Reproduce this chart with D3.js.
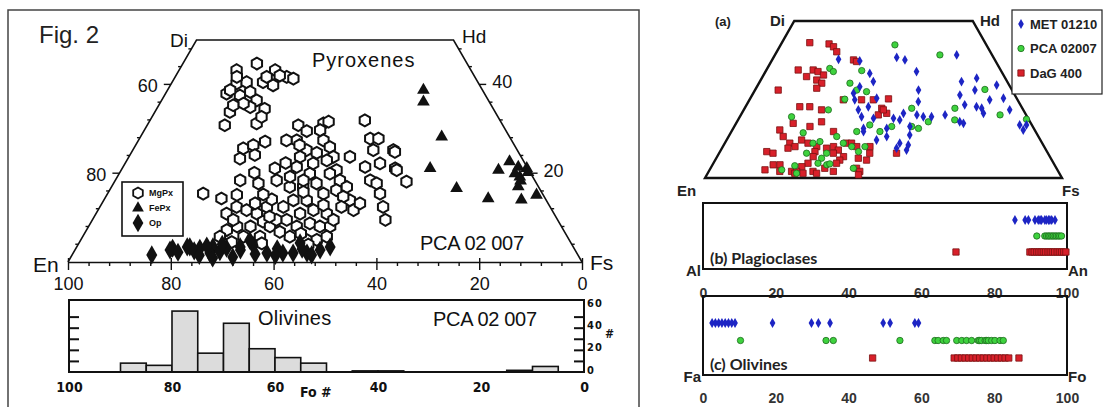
<!DOCTYPE html>
<html>
<head>
<meta charset="utf-8">
<script src="https://cdn.jsdelivr.net/npm/d3@7"></script>
<style>
  body { margin: 0; background: #fff; }
  svg { display: block; }
</style>
</head>
<body>
<svg width="1104" height="407"></svg>
<script>
// ---------- data : left figure (Fig. 2, PCA 02007) ----------
// pyroxenes as [Wo, Fs] (mol %), En = 100 - Wo - Fs
const mgPx = [
  [43.2,11.2],[44.7,14.4],[43.2,18.7],[41.7,21.7],[41.3,23.2],[40.2,12.7],[40.5,14.5],[40.5,17.7],
  [39.8,20],[37.9,11.9],[37.5,14.7],[38.3,16.3],[36.4,18.5],[34.5,21],[34.9,18],[33.8,14.6],
  [30.8,15.1],[31.2,21.1],[35.7,16.3],[41.7,17.8],[42,20.2],[41.7,12],[35.3,14.5],[32.7,21.3],[38.7,12.2],
  [25.6,21.3],[26.3,22.9],[27.1,24.8],[23.3,21.8],[24.1,24.3],
  [15.4,18.6],
  [14.3,22.7],[15.1,25.3],[12.4,26.6],[10.9,25.4],[11.7,28.9],[10.9,31.3],[12.4,32.5],[9.1,33.4],
  [8,31.5],[8,28.9],[7.2,27.3],[5.7,26.7],[5.7,31.3],[5.7,34.5],[8,35.3],[9.5,35.8],[18.4,24.3],
  [17.7,28.2],[21.1,29.7],[18.4,31.4],[9.5,27.4],
  [30.8,29.4],[27.4,30.8],[25.2,33.8],[27.4,28.8],[23.7,33.3],[21.4,33.8],[19.9,37.1],[16.9,34.7],
  [16.9,37.3],[17.7,39.5],[15.4,42],[13.9,39.5],[13.9,36.9],[12.4,35.7],[10.9,39.7],[11.7,41.9],
  [10.9,44.9],[8.7,42.7],[8,40.5],[8,45],[8,47],[5,43.9],[5.7,40.3],[5,45.9],[5.7,47.5],[18.4,36.6],
  [19.2,33.6],[22.2,36.6],[9.5,37.8],[9.5,46.9],
  [31.2,34.1],[31.6,34.9],[29.7,34.2],[27.4,36],[25.9,38],[23.7,39.8],[22.9,38.9],[20.7,41.9],
  [18.4,43.7],[16.2,44.1],[16.9,45.8],[13.9,47.9],[11.7,49.7],[13.2,50.2],[14.7,46.2],[19.9,41],[12.4,47],
  [31.9,41.8],[27.8,44.9],[27.8,46.5],[25.2,46.8],[22.2,49.6],[21.4,47.1],[18.4,49.6],[17.7,51.2],
  [15.4,53],[12.4,55.1],[9.5,57],[25.2,50.7],[21.1,53.1],[23.7,43],[24.8,51.2],[20.7,53.6],[18.1,56.8],
  [13.2,29.8],[14.1,32.6],[6.8,37.8],[4.5,29.6],[4.2,35.6],[15.2,30.4],[20.1,26.2],[22.3,31.2],
  [6.4,42.1],[3.9,44.8],[12.8,43.3],[26.3,31.9],[29.5,31.7],[24.6,36.1],[15.8,37.9],[10.2,34.1]
];
const fePx = [
  [38.7,49.8],[36.1,51.1],[28.2,58.6],[21.1,59.9],[16.6,67.3],[14.3,74.6],[20.7,73.4],[22.6,74.6],
  [21.4,76.9],[19.2,78.3],[17,79.1],[14,81.2],[15.1,83.6],[21.1,78.7],[19.9,77],[18.3,78.9],[20.2,79.4]
];
const opx = [
  [1.6,15.5],[3.1,18.8],[3.4,21.5],[3.1,24.1],[3.4,26.5],[3.1,29.3],[2.7,32.2],[1.1,31.5],[3.8,34.1],
  [2,37.7],[2,40.8],[2.7,18.5],[3.4,22],[2,26.6],[3.4,31.8],[4.9,32.9],[2,42.8],[2,45.5],[2.7,47.7],
  [3.4,49.3],[4.3,43],[0.9,27.7],[2.2,20.3],[2.5,23.3],[2.3,28.4],[1.8,35.5],[3,39.2],[2.9,44.1],
  [1.6,46.6],[3.6,25.2],[1.5,24.8],[4,28],[1.5,39.6]
];
// olivine histogram: bin upper Fo bound (bin width 5) and counts
const foBins = [90, 85, 80, 75, 70, 65, 60, 55, 45, 40, 15, 10];
const foCounts = [8, 6, 55, 17, 44, 21, 13, 8, 1, 1, 1.5, 5];
const enTicks = [100, 80, 60, 40, 20, 0];
const histCountLabels = [0, 20, 40, 60];

// ---------- data : right figure ----------
const seriesNames = ["MET 01210", "PCA 02007", "DaG 400"];
const metPx = [
  [37.8,18.5],[37.3,24.7],[38.4,34.5],[37.6,37.2],[33.9,42.3],[33.3,29.5],[30.7,31.8],[29.1,28.8],
  [27,28.1],[24.9,29.5],[25.4,35.4],[21.7,32.1],[19.5,34.1],[22.7,34.4],[19,37.7],[19,43.3],[18.5,45.3],
  [28,45.8],[24.3,47.6],[20.1,49.3],[19.5,51.4],[19.5,53.7],[20.1,57.2],[39.2,50.9],[30.7,56.5],
  [31.8,60.2],[28,61.6],[26.4,58.2],[23.3,61.1],[22.7,64.7],[22.2,66.4],[24.9,67.3],[29.6,66.9],
  [25.4,70.9],[21.7,74.5],[16.9,79.7],[15.3,81.5],[16.9,81.6],[20.6,67.7],[17.9,62.4],[17.4,63.7],
  [14.8,37],[12.1,42],[13.2,44.3],[13.7,50.5],[10.5,51.7],[11.1,49],[9.5,48.9],[8.9,52],[15.8,43],
  [20.6,45.3],[16.4,49.2],[15.8,36.5]
];
const pcaPx = [
  [42.4,32],[39.2,46.2],[28.2,64.3],[22.2,58.9],[20.1,72.6],[18.7,80.7],[34.9,17.5],[33.9,19],
  [34.2,26.8],[30.2,25.5],[28,28.5],[27.5,31.5],[25.1,26.6],[21.7,23.7],[19.5,14.5],[14.4,20.3],
  [11.1,24.7],[11.6,26.4],[11.1,33.2],[10,36.1],[8.4,38.8],[7.9,30.1],[6.3,29.5],[4.7,29.3],[4.2,32],
  [4.5,32.7],[3.9,23.2],[2.6,20.2],[3.1,40],[16.9,37.7],[14.8,41.6],[16.4,44.1],[22.2,46.8],
  [16.4,49.7],[15.8,51.9],[17.9,53.6],[14.8,35.1],[13.2,30.3],[10,39.8],[1.5,24.9],[7.9,24.5],[18.5,60.7]
];
const dagPx = [
  [43.1,7.8],[42.7,13.4],[41.8,15.1],[40.2,16.8],[37.6,22.8],[37.1,23.9],[34.4,8.9],[34.4,13.1],
  [33.9,14.7],[32.8,16.8],[32.3,12.3],[31.2,15.7],[30.2,17.6],[28.6,17],[22.7,15.2],[22.7,18],
  [21.7,21.8],[24.9,26.3],[24.9,31.4],[24.9,34.7],[25.2,38.8],[22.2,38.4],[20.1,38.5],[20.6,40.6],
  [17.9,23.7],[17.4,16],[16.4,21.2],[15.3,13.3],[13.2,15.3],[12.1,21],[14.8,28.6],[11.1,18.2],
  [10,20.2],[9.5,18.5],[11.1,23.3],[10,26.3],[9.5,29.3],[10,31],[8.9,32.9],[11.1,34.1],[11.1,35.5],
  [10,37.5],[10,41.2],[7.9,42.2],[5.7,42.4],[6.3,39.8],[6.8,35.4],[5.7,34.9],[4.7,34.5],[7.9,32],
  [8.4,13.1],[7.9,15.1],[8.4,26.6],[6.8,26.9],[4.7,26.5],[3.6,25.3],[4.2,18.9],[4.2,17],[2.6,15.5],
  [2.1,19.9],[2.1,23.2],[2.1,24.6],[1.5,24.4],[1.5,26.7],[2.1,29.2],[1.5,30.5],[3.1,32],[2.1,34.9],
  [3.1,40.9],[2.1,42.3],[1,42.5],[7.9,49.7],[28,6.5],[21.7,39.1]
];
// plagioclase An and olivine Fo (mol %)
const metAn = [85.7, 88.5, 89.4, 91.2, 92.1, 92.6, 93, 93.9, 94.3, 94.9, 95.3, 95.8, 96.7];
const pcaAn = [91.7, 93.9, 94.4, 94.9, 95.3, 95.8, 96.2, 96.7, 97.1, 97.6, 98, 98.5];
const dagAn = [69.5, 89.8, 90.4, 91, 91.7, 92.3, 92.9, 93.5, 94.1, 94.8, 95.4, 96, 96.6, 97.3, 97.9, 98.5, 99.1, 99.7];
const metFo = [2.5, 3.4, 4.3, 5.2, 6.1, 7, 7.9, 8.8, 19.1, 29.8, 31.7, 34.9, 49.5, 51.4, 58.2, 59.2];
const pcaFo = [10.3, 33.8, 35.8, 54.1, 63.7, 64.6, 66, 66.9, 69.7, 71.1, 72.4, 73.8, 75.6, 76, 76.5,
  77.5, 77.9, 78.4, 79.3, 80.2, 81.6, 82.5];
const dagFo = [46.6, 69, 70, 71, 72, 73, 74, 75, 76, 77, 78, 79, 80, 81, 82, 83, 84, 86.8];
const pctTicks = [0, 20, 40, 60, 80, 100];

// ---------- setup ----------
const svg = d3.select("svg");
const FONT = "'Liberation Sans', Arial, sans-serif";
const NARROW = "'Liberation Sans Narrow', 'DejaVu Sans Condensed', sans-serif";

function addText(g, x, y, str, size, opts = {}) {
  return g.append("text")
    .attr("x", x).attr("y", y)
    .attr("dominant-baseline", "central")
    .attr("text-anchor", opts.anchor || "start")
    .attr("font-family", opts.family || FONT)
    .attr("font-weight", opts.weight || "normal")
    .attr("font-size", size)
    .attr("letter-spacing", opts.spacing || 0)
    .attr("fill", opts.fill || "#111")
    .text(str);
}

const hexagon = {
  draw(context, size) {
    const r = Math.sqrt(size / 2.598);
    for (let i = 0; i < 6; i++) {
      const a = Math.PI / 3 * i + Math.PI / 6;
      if (i === 0) context.moveTo(r * Math.cos(a), r * Math.sin(a));
      else context.lineTo(r * Math.cos(a), r * Math.sin(a));
    }
    context.closePath();
  }
};

// ================= LEFT FIGURE =================
const left = svg.append("g");
left.append("rect")
  .attr("x", 8).attr("y", 10).attr("width", 631).attr("height", 420)
  .attr("fill", "none").attr("stroke", "#444").attr("stroke-width", 1.5);

// ternary scales: horizontal by (Fs + Wo/2), vertical by Wo
const tx = d3.scaleLinear().domain([0, 100]).range([68, 582]);
const ty = d3.scaleLinear().domain([0, 50]).range([262, 40]);
const tPos = (wo, fs) => [tx(fs + wo / 2), ty(wo)];

// quadrilateral En-Di-Hd-Fs
left.append("path")
  .attr("d", d3.line()([tPos(0, 0), tPos(50, 0), tPos(50, 50), tPos(0, 100)]))
  .attr("fill", "none").attr("stroke", "#111").attr("stroke-width", 1.6);

// edge ticks
d3.range(4, 50, 4).forEach(wo => {
  const major = wo % 20 === 0;
  const len = major ? 7 : 3;
  const [lx, ly] = tPos(wo, 0);
  left.append("line").attr("x1", lx - len).attr("x2", lx).attr("y1", ly).attr("y2", ly)
    .attr("stroke", "#111").attr("stroke-width", 1.4);
  const [rx, ry] = tPos(wo, 100 - wo);
  left.append("line").attr("x1", rx).attr("x2", rx + len).attr("y1", ry).attr("y2", ry)
    .attr("stroke", "#111").attr("stroke-width", 1.4);
});
[[40, "60"], [20, "80"]].forEach(([wo, lab]) => {
  const [lx, ly] = tPos(wo, 0);
  addText(left, lx - 13, ly + 2, lab, 18, { anchor: "end" });
});
[[40, "40"], [20, "20"]].forEach(([wo, lab]) => {
  const [rx, ry] = tPos(wo, 100 - wo);
  addText(left, rx + 13, ry - 2, lab, 18);
});

// bottom En axis
const enScale = d3.scaleLinear().domain([100, 0]).range([68, 582]);
const enAxis = left.append("g").attr("transform", "translate(0,262)")
  .call(d3.axisBottom(enScale).tickValues(d3.range(0, 101, 4)).tickSize(4).tickSizeOuter(0)
    .tickFormat(d => enTicks.includes(d) ? d : ""));
enAxis.select(".domain").attr("stroke", "#111").attr("stroke-width", 1.6);
enAxis.selectAll(".tick line").attr("stroke", "#111").attr("stroke-width", 1.4)
  .filter(d => enTicks.includes(d)).attr("y1", -4).attr("y2", 8);
enAxis.selectAll(".tick text").attr("y", 15).attr("font-size", 18)
  .attr("font-family", FONT).attr("fill", "#111");

// points
const tern = left.append("g");
tern.selectAll(".mg").data(mgPx).join("path")
  .attr("transform", d => `translate(${tPos(d[0], d[1])})`)
  .attr("d", d3.symbol().type(hexagon).size(92))
  .attr("fill", "#fff").attr("stroke", "#111").attr("stroke-width", 2);
tern.selectAll(".op").data(opx).join("path")
  .attr("transform", d => `translate(${tPos(d[0], d[1])})`)
  .attr("d", d3.symbol().type(d3.symbolDiamond).size(105))
  .attr("fill", "#111");
tern.selectAll(".fe").data(fePx).join("path")
  .attr("transform", d => `translate(${tPos(d[0], d[1])})`)
  .attr("d", d3.symbol().type(d3.symbolTriangle).size(70))
  .attr("fill", "#111");

// labels
addText(left, 39, 34, "Fig. 2", 24, { fill: "#222" });
addText(left, 170, 40, "Di", 19);
addText(left, 462, 36, "Hd", 19);
addText(left, 312, 60, "Pyroxenes", 20, { spacing: 1 });
addText(left, 420, 243, "PCA 02 007", 20, { spacing: -0.3 });
addText(left, 33, 264, "En", 21);
addText(left, 590, 262, "Fs", 21);

// legend
const lg = left.append("g");
lg.append("rect").attr("x", 122).attr("y", 182).attr("width", 61).attr("height", 54)
  .attr("fill", "#fff").attr("stroke", "#111").attr("stroke-width", 1.6);
const lgItems = [["MgPx", hexagon, 80, "#fff"], ["FePx", d3.symbolTriangle, 60, "#111"], ["Op", d3.symbolDiamond, 100, "#111"]];
lgItems.forEach(([name, type, size, fill], i) => {
  lg.append("path").attr("transform", `translate(138,${193 + i * 15})`)
    .attr("d", d3.symbol().type(type).size(size))
    .attr("fill", fill).attr("stroke", "#111").attr("stroke-width", fill === "#fff" ? 1.8 : 0);
  addText(lg, 149, 193 + i * 15, name, 9, { weight: "bold" });
});

// olivine histogram
const hx = d3.scaleLinear().domain([100, 0]).range([69, 584]);
const hy = d3.scaleLinear().domain([0, 65]).range([372, 300]);
const hist = left.append("g");
hist.selectAll("rect.bar").data(foBins).join("rect")
  .attr("x", d => hx(d))
  .attr("width", d => hx(d - 5) - hx(d))
  .attr("y", (d, i) => hy(foCounts[i]))
  .attr("height", (d, i) => hy(0) - hy(foCounts[i]))
  .attr("fill", "#dcdcdc").attr("stroke", "#111").attr("stroke-width", 1.6);
hist.append("rect").attr("x", hx(100)).attr("y", hy(65))
  .attr("width", hx(0) - hx(100)).attr("height", hy(0) - hy(65))
  .attr("fill", "none").attr("stroke", "#111").attr("stroke-width", 2);
const hTickL = hist.append("g").attr("transform", `translate(${hx(100)},0)`)
  .call(d3.axisRight(hy).tickValues([10, 20, 30, 40, 50]).tickSize(10).tickSizeOuter(0).tickFormat(""));
const hTickR = hist.append("g").attr("transform", `translate(${hx(0)},0)`)
  .call(d3.axisLeft(hy).tickValues([10, 20, 30, 40, 50]).tickSize(10).tickSizeOuter(0).tickFormat(""));
[hTickL, hTickR].forEach(a => {
  a.select(".domain").remove();
  a.selectAll(".tick line").attr("stroke", "#111").attr("stroke-width", 2);
});
histCountLabels.forEach(v => {
  addText(hist, hx(0) + 3, hy(v) - 2, String(v), 11, { family: NARROW, weight: "bold", spacing: 1 });
});
addText(hist, 605, 334, "#", 12, { family: NARROW, weight: "bold" });
const hAxis = hist.append("g").attr("transform", `translate(0,${hy(0)})`)
  .call(d3.axisBottom(hx).tickValues(enTicks).tickSize(0));
hAxis.select(".domain").remove();
hAxis.selectAll(".tick text").attr("y", 10).attr("font-size", 14)
  .attr("font-family", NARROW).attr("font-weight", "bold").attr("fill", "#111");
addText(hist, 300, 392, "Fo #", 14, { family: NARROW, weight: "bold" });
addText(hist, 258, 318, "Olivines", 20, { spacing: 0.3 });
addText(hist, 433, 319, "PCA 02 007", 20, { spacing: -0.3 });

// ================= RIGHT FIGURE =================
const right = svg.append("g");
const colors = { met: "#1d25c4", pca: "#3ed23e", dag: "#d8202a" };
const RFONT = "'Liberation Sans', Arial, sans-serif";

const rx = d3.scaleLinear().domain([0, 100]).range([705, 1062]);
const ry = d3.scaleLinear().domain([0, 50]).range([178, 21]);
const rPos = (wo, fs) => [rx(fs + wo / 2), ry(wo)];

right.append("path")
  .attr("d", d3.line()([rPos(0, 0), rPos(50, 0), rPos(50, 50), rPos(0, 100)]) + "Z")
  .attr("fill", "none").attr("stroke", "#111").attr("stroke-width", 2.4);

const metSym = d3.symbol().type(d3.symbolDiamond).size(28);
const pcaSym = d3.symbol().type(d3.symbolCircle).size(32);
const dagSym = d3.symbol().type(d3.symbolSquare).size(40);

function drawMarks(g, data, pos, kind) {
  const sym = kind === "met" ? metSym : kind === "pca" ? pcaSym : dagSym;
  g.selectAll(null).data(data).join("path")
    .attr("transform", d => `translate(${pos(d)})`)
    .attr("d", sym)
    .attr("fill", colors[kind])
    .attr("stroke", kind === "met" ? "none" : kind === "pca" ? "#1e6a1e" : "#7a1212")
    .attr("stroke-width", 0.8);
}
const rt = right.append("g");
drawMarks(rt, dagPx, d => rPos(d[0], d[1]), "dag");
drawMarks(rt, pcaPx, d => rPos(d[0], d[1]), "pca");
drawMarks(rt, metPx, d => rPos(d[0], d[1]), "met");

addText(right, 715, 21, "(a)", 13, { weight: "bold", fill: "#222", family: RFONT });
addText(right, 770, 20, "Di", 15, { weight: "bold", fill: "#222", family: RFONT });
addText(right, 980, 20, "Hd", 15, { weight: "bold", fill: "#222", family: RFONT });
addText(right, 677, 190, "En", 15, { weight: "bold", fill: "#222", family: RFONT });
addText(right, 1062, 190, "Fs", 15, { weight: "bold", fill: "#222", family: RFONT });

// legend
const rl = right.append("g");
rl.append("rect").attr("x", 1012).attr("y", 10).attr("width", 90).attr("height", 84)
  .attr("fill", "#fff").attr("stroke", "#222").attr("stroke-width", 1.2);
seriesNames.forEach((name, i) => {
  const kind = ["met", "pca", "dag"][i];
  drawMarks(rl, [i], () => [1021, 24 + i * 24.5], kind);
  addText(rl, 1030, 24 + i * 24.5, name, 13, { weight: "bold", fill: "#222", family: RFONT });
});

// (b) plagioclases and (c) olivines strips
const px = d3.scaleLinear().domain([0, 100]).range([703, 1067]);
function strip(top, bottom, rows, lab, leftLab, rightLab, axisY, rowRange) {
  const g = right.append("g");
  const rowY = d3.scalePoint().domain(["met", "pca", "dag"]).range(rowRange);
  g.append("rect").attr("x", px(0)).attr("y", top).attr("width", px(100) - px(0)).attr("height", bottom - top)
    .attr("fill", "none").attr("stroke", "#111").attr("stroke-width", 2);
  rows.forEach(([kind, vals]) => drawMarks(g, vals, d => [px(d), rowY(kind)], kind));
  addText(g, 710, bottom - 12, lab, 16, { weight: "bold", fill: "#222", family: "Lato, 'Open Sans', sans-serif" });
  addText(g, px(0) - 2, bottom + 1, leftLab, 15, { weight: "bold", fill: "#222", family: RFONT, anchor: "end" });
  addText(g, px(100) + 1, bottom + 1, rightLab, 15, { weight: "bold", fill: "#222", family: RFONT });
  const ax = g.append("g").attr("transform", `translate(0,${axisY})`)
    .call(d3.axisBottom(px).tickValues(pctTicks).tickSize(0));
  ax.select(".domain").remove();
  ax.selectAll(".tick text").attr("y", 0).attr("dy", "0.35em").attr("font-size", 14)
    .attr("font-family", RFONT).attr("font-weight", "bold").attr("fill", "#333");
}
strip(203, 269, [["met", metAn], ["pca", pcaAn], ["dag", dagAn]], "(b) Plagioclases", "Al", "An", 293, [220, 252]);
strip(296, 375, [["met", metFo], ["pca", pcaFo], ["dag", dagFo]], "(c) Olivines", "Fa", "Fo", 398, [323, 358]);
</script>
</body>
</html>
